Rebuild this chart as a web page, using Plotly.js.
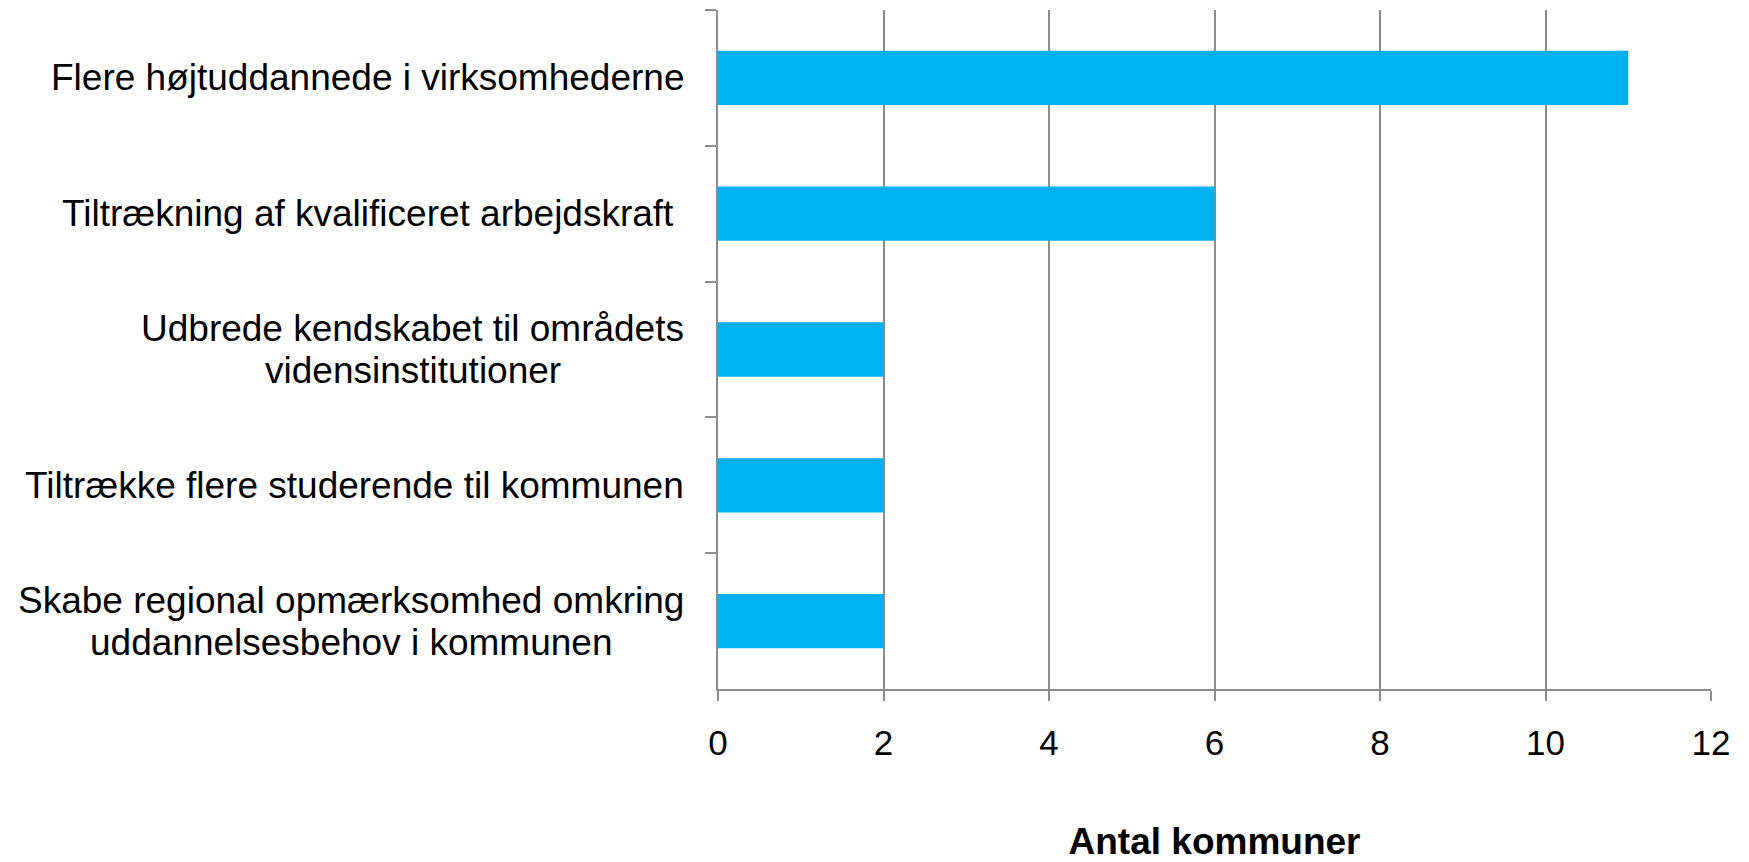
<!DOCTYPE html>
<html>
<head>
<meta charset="utf-8">
<script src="https://cdn.plot.ly/plotly-3.0.1.min.js"></script>
<style>
  html, body { margin: 0; padding: 0; background: #fff; }
  #chart { width: 1749px; height: 862px; }
</style>
</head>
<body>
<div id="chart"></div>
<script>
// categories top to bottom (<br> marks the wrap in the original)
var categories = [
  'Flere højtuddannede i virksomhederne',
  'Tiltrækning af kvalificeret arbejdskraft\u00a0',
  'Udbrede kendskabet til områdets<br>vidensinstitutioner',
  'Tiltrække flere studerende til kommunen',
  'Skabe regional opmærksomhed omkring<br>uddannelsesbehov i kommunen'
];
var antal = [11, 6, 2, 2, 2];
var xTicks = [0, 2, 4, 6, 8, 10, 12];

var barColor = '#00B0F0';
var axisGray = '#8C8C8C';
var fontFamily = 'Liberation Sans, Arial, sans-serif';
var labelSize = 37;
var lineGap = 42;

var trace = {
  type: 'bar',
  orientation: 'h',
  x: antal,
  y: categories,
  width: 0.4,
  marker: { color: barColor },
  hoverinfo: 'x+y'
};

// measure text so wrapped lines can be centred on the widest line
var ctx = document.createElement('canvas').getContext('2d');
ctx.font = labelSize + 'px "Liberation Sans", Arial, sans-serif';

// category labels as annotations, one per line, tighter line spacing than plotly's default
var labels = [];
categories.forEach(function (c) {
  var lines = c.split('<br>');
  var w = Math.max.apply(null, lines.map(function (l) { return ctx.measureText(l).width; }));
  lines.forEach(function (l, i) {
    labels.push({
      xref: 'x', yref: 'y',
      x: 0, y: c,
      xanchor: 'center', yanchor: 'middle',
      xshift: -34 - w / 2,
      yshift: ((lines.length - 1) / 2 - i) * lineGap,
      showarrow: false,
      text: l,
      font: { family: fontFamily, size: labelSize, color: '#000' }
    });
  });
});

var layout = {
  width: 1749,
  height: 862,
  margin: { l: 718, r: 38, t: 10, b: 173 },
  paper_bgcolor: '#fff',
  plot_bgcolor: '#fff',
  font: { family: fontFamily, color: '#000' },
  showlegend: false,
  bargap: 0.6,
  xaxis: {
    range: [0, 12],
    tickvals: xTicks,
    ticks: 'outside',
    ticklen: 10,
    tickcolor: axisGray,
    tickwidth: 1.5,
    showgrid: true,
    gridcolor: axisGray,
    gridwidth: 1.5,
    showline: true,
    linecolor: axisGray,
    linewidth: 1.5,
    zeroline: false,
    ticklabelstandoff: 12,
    tickfont: { family: fontFamily, size: 35, color: '#000' },
    title: {
      text: '<b>Antal kommuner</b>',
      font: { family: fontFamily, size: 37, color: '#000' },
      standoff: 83
    }
  },
  yaxis: {
    type: 'category',
    autorange: 'reversed',
    showticklabels: false,
    ticks: 'outside',
    tickson: 'boundaries',
    ticklen: 11,
    tickcolor: axisGray,
    tickwidth: 1.5,
    showgrid: false,
    showline: true,
    linecolor: axisGray,
    linewidth: 1.5,
    zeroline: false
  },
  annotations: labels
};

Plotly.newPlot('chart', [trace], layout, { displayModeBar: false, responsive: false });
</script>
</body>
</html>
